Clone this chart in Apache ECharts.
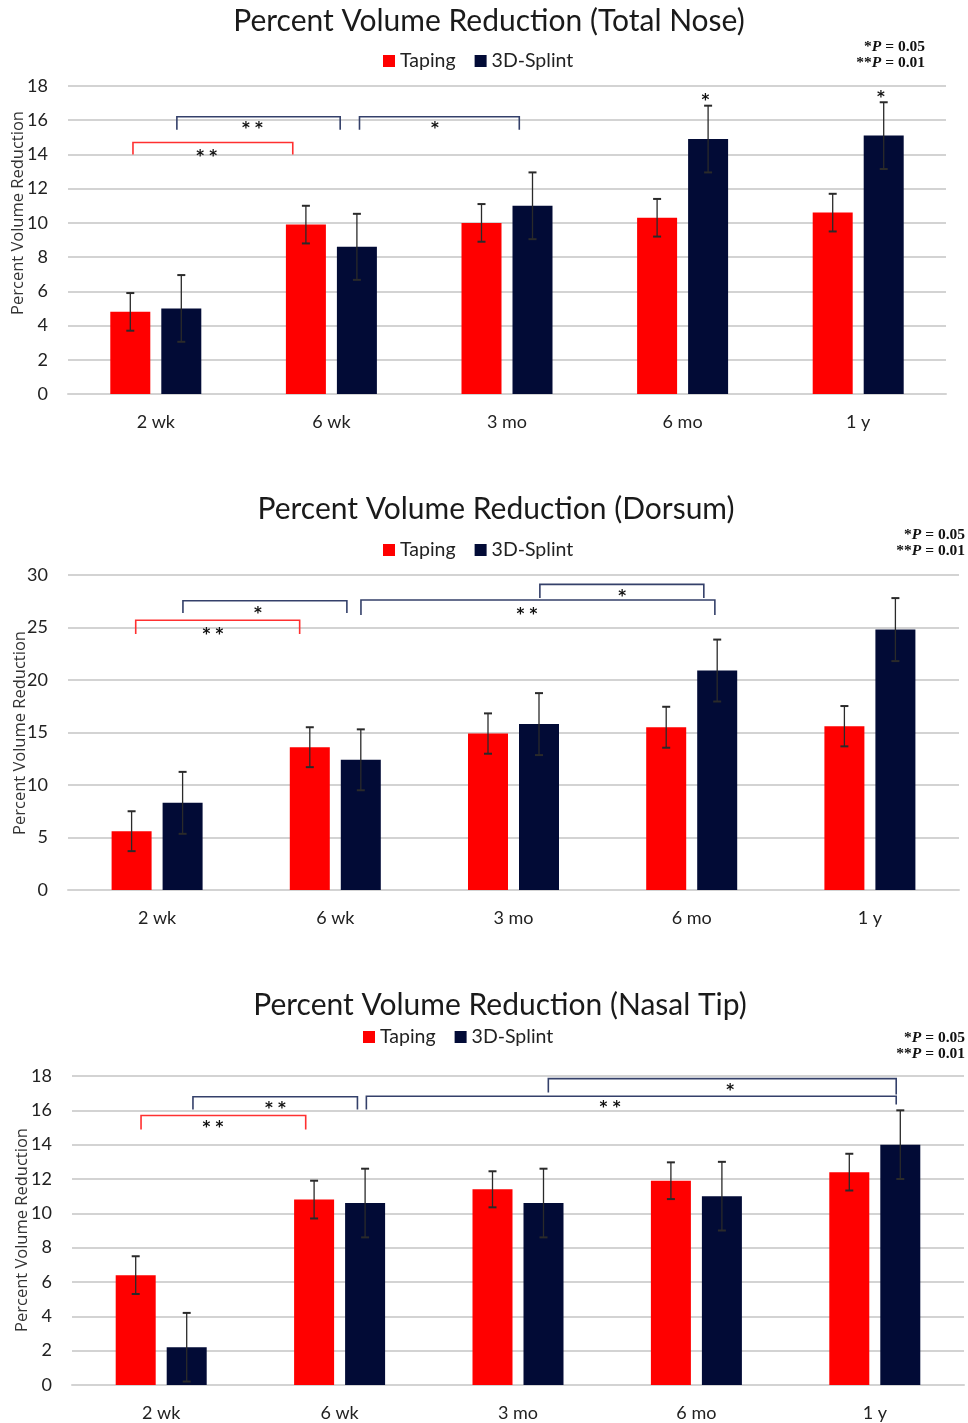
<!DOCTYPE html>
<html>
<head>
<meta charset="utf-8">
<script src="https://cdn.jsdelivr.net/npm/echarts@6/dist/echarts.min.js"></script>
<style>
html,body{margin:0;padding:0;background:#fff;}
#chart{width:968px;height:1423px;}
</style>
</head>
<body>
<div id="chart"></div>
<script>
// ---------- data ----------
const categories = ['2 wk', '6 wk', '3 mo', '6 mo', '1 y'];
const seriesNames = ['Taping', '3D-Splint'];

// Total Nose
const noseTaping = [4.8, 9.9, 10.0, 10.3, 10.6];
const noseTapingErr = [1.1, 1.1, 1.1, 1.1, 1.1];
const noseSplint = [5.0, 8.6, 11.0, 14.9, 15.1];
const noseSplintErr = [1.95, 1.93, 1.95, 1.95, 1.95];

// Dorsum
const dorsumTaping = [5.6, 13.6, 14.9, 15.5, 15.6];
const dorsumTapingErr = [1.9, 1.9, 1.92, 1.95, 1.92];
const dorsumSplint = [8.3, 12.4, 15.8, 20.9, 24.8];
const dorsumSplintErr = [2.95, 2.9, 2.95, 2.95, 3.0];

// Nasal Tip
const tipTaping = [6.4, 10.8, 11.4, 11.9, 12.4];
const tipTapingErr = [1.1, 1.1, 1.05, 1.07, 1.07];
const tipSplint = [2.2, 10.6, 10.6, 11.0, 14.0];
const tipSplintErr = [2.0, 2.0, 2.0, 2.0, 2.0];

// y-axis ticks
const noseTicks = {min: 0, max: 18, interval: 2};
const dorsumTicks = {min: 0, max: 30, interval: 5};
const tipTicks = {min: 0, max: 18, interval: 2};

// significance brackets: [from, to, top, leftLeg, rightLeg, group] (category units / value units)
const noseBrackets = [
  [-0.13, 0.78, 14.7, 14.0, 14.0, 'taping'],
  [0.12, 1.05, 16.2, 15.45, 15.45, 'splint'],
  [1.16, 2.07, 16.2, 15.45, 15.45, 'splint']
];
// significance labels: [x, y, text]
const noseMarks = [
  [0.29, 14.1, '* *'], [0.55, 15.7, '* *'], [1.59, 15.7, '*'],
  [3.13, 17.35, '*'], [4.13, 17.5, '*']
];

const dorsumBrackets = [
  [-0.12, 0.80, 25.69, 24.38, 24.38, 'taping'],
  [0.145, 1.065, 27.55, 26.38, 26.38, 'splint'],
  [1.144, 3.13, 27.62, 26.19, 26.19, 'splint'],
  [2.148, 3.068, 29.11, 27.81, 27.81, 'splint']
];
const dorsumMarks = [
  [0.313, 24.7, '* *'], [0.566, 26.67, '*'], [2.075, 26.57, '* *'], [2.61, 28.29, '*']
];

const tipBrackets = [
  [-0.113, 0.81, 15.70, 14.88, 14.88, 'taping'],
  [0.178, 1.10, 16.79, 16.05, 16.05, 'splint'],
  [1.15, 4.12, 16.82, 16.05, 16.34, 'splint'],
  [2.17, 4.12, 17.85, 17.04, 16.92, 'splint']
];
const tipMarks = [
  [0.29, 15.17, '* *'], [0.64, 16.3, '* *'], [2.516, 16.38, '* *'], [3.19, 17.33, '*']
];

// ---------- styles ----------
const RED = '#ff0000';
const NAVY = '#020b36';
const BRACKET_NAVY = '#34406a';
const GRID = '#d3d3d3';
const FONT = 'Lato';
const BAR_W = 40;
const BAR_OFF = 25.5;

const panels = [
  {title: 'Percent Volume Reduction (Total Nose)', tp: noseTaping, te: noseTapingErr, sp: noseSplint, se: noseSplintErr,
   ticks: noseTicks, brackets: noseBrackets, marks: noseMarks,
   grid: {left: 68, right: 22, top: 86, height: 308}, titleX: 484, titleY: 16, legendX: 383, legendY: 51,
   pRight: 925, pY: 47, nameX: 18, nameY: 213},
  {title: 'Percent Volume Reduction (Dorsum)', tp: dorsumTaping, te: dorsumTapingErr, sp: dorsumSplint, se: dorsumSplintErr,
   ticks: dorsumTicks, brackets: dorsumBrackets, marks: dorsumMarks,
   grid: {left: 68, right: 9, top: 575, height: 315}, titleX: 491, titleY: 504, legendX: 383, legendY: 540,
   pRight: 965, pY: 535, nameX: 20, nameY: 733},
  {title: 'Percent Volume Reduction (Nasal Tip)', tp: tipTaping, te: tipTapingErr, sp: tipSplint, se: tipSplintErr,
   ticks: tipTicks, brackets: tipBrackets, marks: tipMarks,
   grid: {left: 72, right: 4, top: 1076, height: 309}, titleX: 495, titleY: 1000, legendX: 363, legendY: 1027,
   pRight: 965, pY: 1038, nameX: 22, nameY: 1230}
];

const option = {
  backgroundColor: '#fff',
  animation: false,
  title: [], legend: [], grid: [], xAxis: [], yAxis: [], series: [], graphic: []
};

panels.forEach((p, i) => {
  option.title.push({
    text: p.title, left: p.titleX, top: p.titleY, textAlign: 'center', textVerticalAlign: 'middle',
    textStyle: {fontFamily: FONT, fontSize: 30, fontWeight: 'normal', color: '#1a1a1a'}
  });
  option.legend.push({
    data: seriesNames.map(n => n + (i ? '\u200b'.repeat(i) : '')),
    left: p.legendX, top: p.legendY, orient: 'horizontal', padding: 0,
    itemWidth: 12, itemHeight: 12, itemGap: 19, icon: 'rect',
    textStyle: {fontFamily: FONT, fontSize: 19.5, color: '#222'},
    formatter: n => n.replace(/\u200b/g, '')
  });
  option.grid.push(Object.assign({containLabel: false}, p.grid));
  option.xAxis.push({
    type: 'category', gridIndex: i, data: categories,
    axisLine: {lineStyle: {color: GRID, width: 2}}, axisTick: {show: false},
    axisLabel: {fontFamily: FONT, fontSize: 18, color: '#222', margin: 19}
  });
  option.xAxis.push({type: 'value', gridIndex: i, min: -0.5, max: 4.5, show: false});
  option.yAxis.push({
    type: 'value', gridIndex: i, min: p.ticks.min, max: p.ticks.max, interval: p.ticks.interval,
    axisLine: {show: false}, axisTick: {show: false},
    splitLine: {lineStyle: {color: GRID, width: 2}},
    axisLabel: {fontFamily: FONT, fontSize: 18, color: '#222', margin: 20}
  });
  const suffix = i ? '\u200b'.repeat(i) : '';
  option.series.push({
    name: 'Taping' + suffix, type: 'bar', xAxisIndex: 2 * i, yAxisIndex: i, data: p.tp,
    barWidth: BAR_W, barGap: '27.5%', itemStyle: {color: RED}
  });
  option.series.push({
    name: '3D-Splint' + suffix, type: 'bar', xAxisIndex: 2 * i, yAxisIndex: i, data: p.sp,
    barWidth: BAR_W, barGap: '27.5%', itemStyle: {color: NAVY}
  });
  // error bars
  [[p.tp, p.te, -BAR_OFF], [p.sp, p.se, BAR_OFF]].forEach(([vals, errs, off]) => {
    option.series.push({
      type: 'custom', xAxisIndex: 2 * i, yAxisIndex: i, silent: true, z: 5,
      data: vals.map((v, k) => [k, v - errs[k], v + errs[k]]),
      encode: {x: 0, y: [1, 2]},
      renderItem: (params, api) => {
        const lo = api.coord([api.value(0), api.value(1)]);
        const hi = api.coord([api.value(0), api.value(2)]);
        const x = lo[0] + off;
        const c = 4;
        const st = {stroke: '#2a2a2a', lineWidth: 1.3};
        return {type: 'group', children: [
          {type: 'line', shape: {x1: x, y1: lo[1], x2: x, y2: hi[1]}, style: st},
          {type: 'line', shape: {x1: x - c, y1: lo[1], x2: x + c, y2: lo[1]}, style: {stroke: '#2a2a2a', lineWidth: 2}},
          {type: 'line', shape: {x1: x - c, y1: hi[1], x2: x + c, y2: hi[1]}, style: {stroke: '#2a2a2a', lineWidth: 2}}
        ]};
      }
    });
  });
  // brackets
  option.series.push({
    type: 'custom', xAxisIndex: 2 * i + 1, yAxisIndex: i, silent: true, z: 6,
    data: p.brackets.map(b => [b[0], b[1], b[2], b[3], b[4], b[5] === 'taping' ? 0 : 1]),
    encode: {x: [0, 1], y: [2]},
    renderItem: (params, api) => {
      const a = api.coord([api.value(0), api.value(3)]);
      const b = api.coord([api.value(0), api.value(2)]);
      const c = api.coord([api.value(1), api.value(2)]);
      const d = api.coord([api.value(1), api.value(4)]);
      return {type: 'polyline', shape: {points: [a, b, c, d]},
        style: {stroke: api.value(5) === 0 ? '#ff3030' : BRACKET_NAVY, lineWidth: 1.6, fill: null}};
    }
  });
  // significance marks
  option.series.push({
    type: 'custom', xAxisIndex: 2 * i + 1, yAxisIndex: i, silent: true, z: 7,
    data: p.marks.map(m => [m[0], m[1], m[2]]),
    encode: {x: 0, y: 1},
    renderItem: (params, api) => {
      const pt = api.coord([api.value(0), api.value(1)]);
      return {type: 'text', x: pt[0], y: pt[1] + 4,
        style: {text: p.marks[params.dataIndex][2], fontFamily: 'DejaVu Sans', fontWeight: 'bold', fontSize: 15,
          fill: '#111', align: 'center', verticalAlign: 'middle'}};
    }
  });
  // y axis name
  option.graphic.push({
    type: 'text', x: p.nameX, y: p.nameY, rotation: Math.PI / 2,
    style: {text: 'Percent Volume Reduction', fontFamily: 'Open Sans', fontSize: 16.5, fill: '#333',
      align: 'center', verticalAlign: 'middle'}
  });
  // p-value notes
  const rich = {n: {fontFamily: 'Liberation Serif', fontWeight: 'bold', fontSize: 15.5, fill: '#111'},
                i: {fontFamily: 'Liberation Serif', fontWeight: 'bold', fontStyle: 'italic', fontSize: 15.5, fill: '#111'}};
  option.graphic.push({
    type: 'text', x: p.pRight, y: p.pY,
    style: {text: '{n|*}{i|P}{n| = 0.05}', rich: rich, align: 'right', verticalAlign: 'middle'}
  });
  option.graphic.push({
    type: 'text', x: p.pRight, y: p.pY + 16,
    style: {text: '{n|**}{i|P}{n| = 0.01}', rich: rich, align: 'right', verticalAlign: 'middle'}
  });
});

const chart = echarts.init(document.getElementById('chart'), null, {renderer: 'canvas'});
chart.setOption(option);
</script>
</body>
</html>
